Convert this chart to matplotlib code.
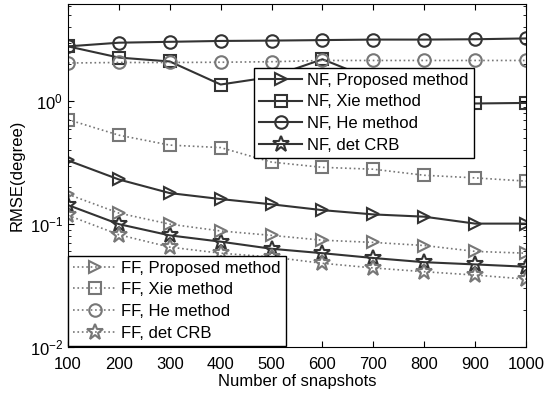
import matplotlib.pyplot as plt
import numpy as np

plt.rcParams['font.family'] = ['Liberation Sans', 'DejaVu Sans']

snapshots = [100, 200, 300, 400, 500, 600, 700, 800, 900, 1000]

nf_proposed = [0.33, 0.231, 0.179, 0.16, 0.145, 0.13, 0.12, 0.115, 0.101, 0.101]
nf_xie = [2.8, 2.27, 2.11, 1.37, 1.58, 2.2, 1.5, 1.1, 0.96, 0.97]
nf_he = [2.8, 3.0, 3.05, 3.1, 3.12, 3.15, 3.18, 3.18, 3.2, 3.25]
nf_crb = [0.143, 0.1, 0.081, 0.072, 0.063, 0.058, 0.053, 0.049, 0.047, 0.045]

ff_proposed = [0.175, 0.123, 0.1, 0.088, 0.081, 0.074, 0.071, 0.067, 0.06, 0.058]
ff_xie = [0.71, 0.53, 0.44, 0.42, 0.32, 0.29, 0.28, 0.25, 0.238, 0.224]
ff_he = [2.05, 2.07, 2.07, 2.08, 2.1, 2.15, 2.15, 2.15, 2.15, 2.15]
ff_crb = [0.118, 0.082, 0.065, 0.058, 0.054, 0.048, 0.044, 0.041, 0.0385, 0.0357]

dark = '#333333'
gray = '#777777'

fig = plt.figure(figsize=(5.47, 3.97), dpi=100)
ax = fig.add_axes([0.1243, 0.126, 0.8373, 0.864])

kw_nf = dict(color=dark, lw=1.5, ms=9, mew=1.5, mfc='none')
kw_ff = dict(color=gray, lw=1.2, ls=':', ms=9, mew=1.5, mfc='none')

h1, = ax.semilogy(snapshots, nf_proposed, marker='>', label='NF, Proposed method', **kw_nf)
h2, = ax.semilogy(snapshots, nf_xie, marker='s', label='NF, Xie method', **kw_nf)
h3, = ax.semilogy(snapshots, nf_he, marker='o', label='NF, He method', **kw_nf)
h4, = ax.semilogy(snapshots, nf_crb, marker='*', label='NF, det CRB', **dict(kw_nf, ms=12))

g1, = ax.semilogy(snapshots, ff_proposed, marker='>', label='FF, Proposed method', **kw_ff)
g2, = ax.semilogy(snapshots, ff_xie, marker='s', label='FF, Xie method', **kw_ff)
g3, = ax.semilogy(snapshots, ff_he, marker='o', label='FF, He method', **kw_ff)
g4, = ax.semilogy(snapshots, ff_crb, marker='*', label='FF, det CRB', **dict(kw_ff, ms=12))

ax.set_xlim(100, 1000)
ax.set_ylim(0.01, 6.2)
ax.set_xticks(snapshots)
ax.tick_params(which='both', direction='in', top=True, right=True, labelsize=12)
ax.tick_params(which='major', length=4)
ax.tick_params(which='minor', length=2)
ax.tick_params(axis='x', pad=7)
ax.set_xlabel('Number of snapshots', fontsize=12, labelpad=2)
ax.set_ylabel('RMSE(degree)', fontsize=12, labelpad=4)

leg_kw = dict(fontsize=12, fancybox=False, edgecolor='black', framealpha=1,
              handlelength=2.6, borderaxespad=0, labelspacing=0.4, borderpad=0.3,
              handletextpad=0.3)
leg1 = ax.legend(handles=[h1, h2, h3, h4], loc='upper right',
                 bbox_to_anchor=(0.886, 0.814), **leg_kw)
leg1.get_frame().set_linewidth(1.0)
ax.add_artist(leg1)
leg2 = ax.legend(handles=[g1, g2, g3, g4], loc='lower left',
                 bbox_to_anchor=(0, 0.004), **leg_kw)
leg2.get_frame().set_linewidth(1.0)

fig.savefig('out.png', dpi=100)
